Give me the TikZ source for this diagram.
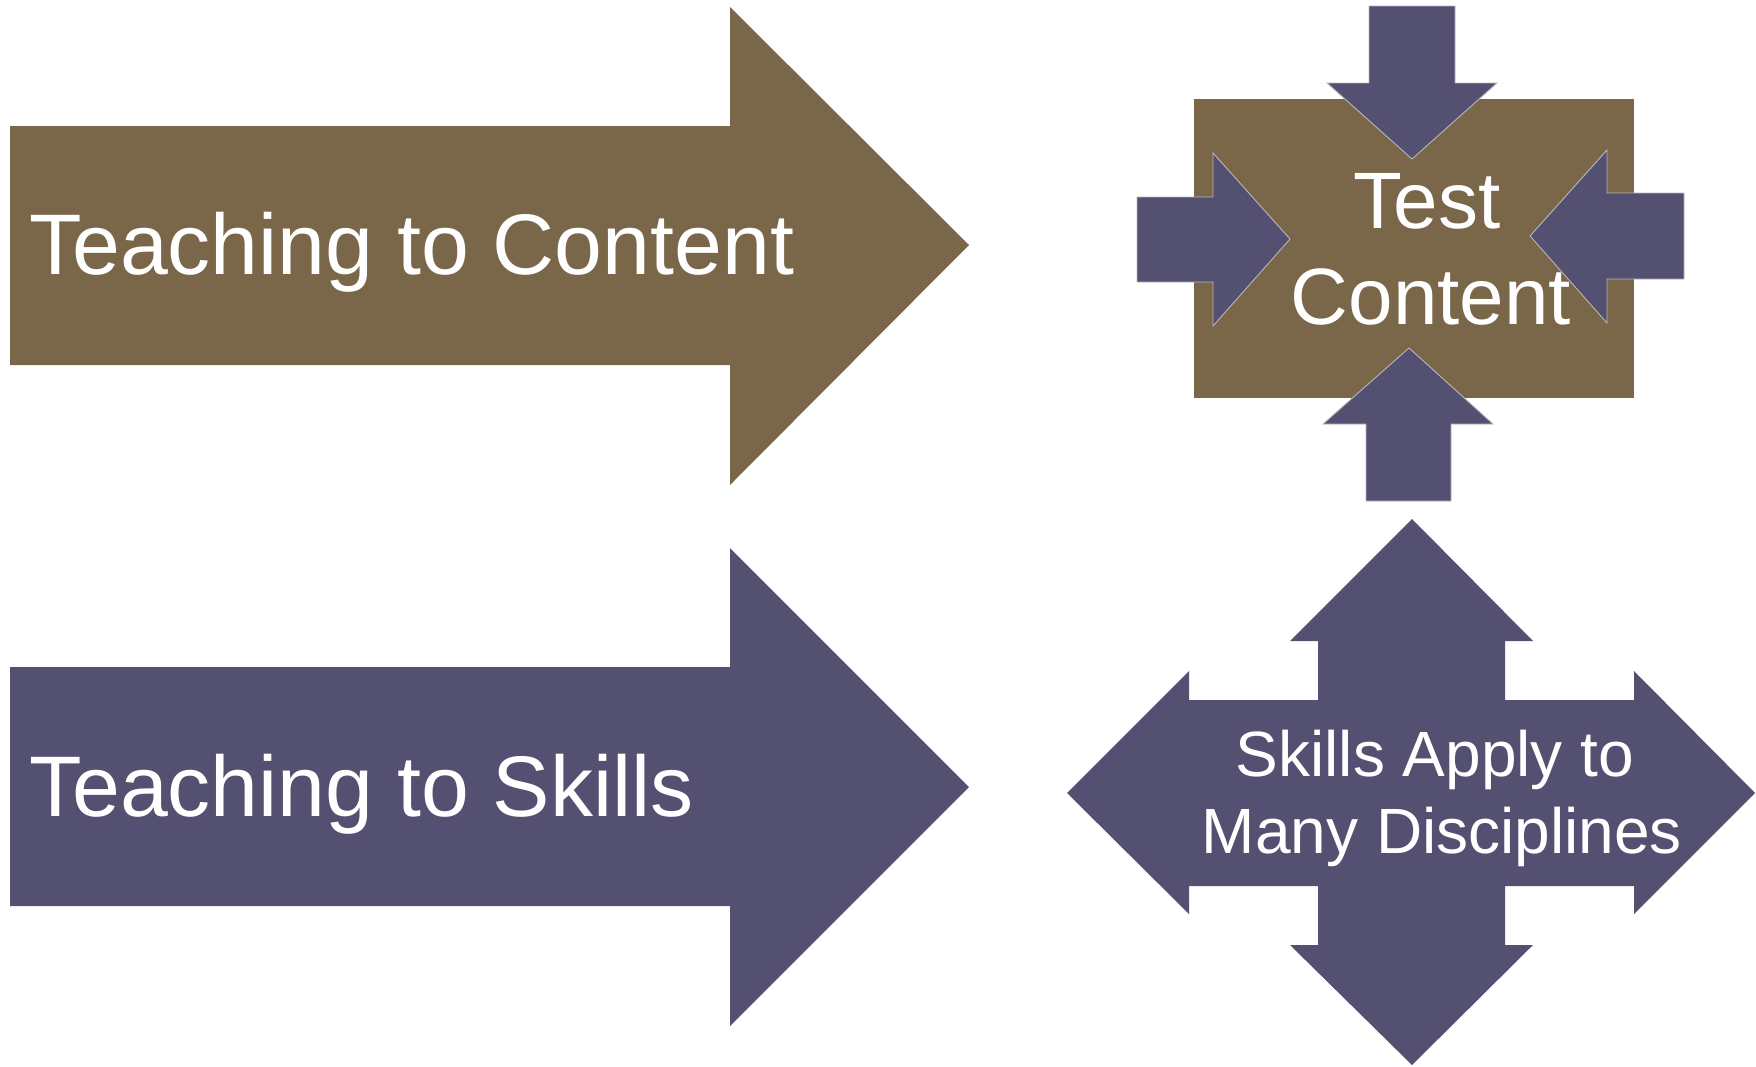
\documentclass[tikz,border=0pt]{standalone}
\usepackage{fontspec}
\setmainfont{Liberation Sans}
\definecolor{umber}{RGB}{122,103,73}
\definecolor{slate}{RGB}{84,80,113}
\tikzset{
  brownshape/.style={fill=umber},
  purpleshape/.style={fill=slate},
  edged/.style={purpleshape, draw=white!72!black, line width=0.9pt, line join=miter},
  whitetext/.style={text=white, inner sep=0pt},
  bigtext/.style={whitetext, font=\fontsize{86}{90}\selectfont},
  boxtext/.style={whitetext, font=\fontsize{80}{84}\selectfont},
  quadtext/.style={whitetext, font=\fontsize{64}{70}\selectfont},
}
\begin{document}
\begin{tikzpicture}[x=1pt,y=-1pt]
  \useasboundingbox (0,0) rectangle (1756,1066);

  % the two big arrows on the left
  \path[brownshape] (10,126) -- (730,126) -- (730,7) -- (969,245) -- (730,485)
    -- (730,365) -- (10,365) -- cycle;
  \path[purpleshape] (10,667) -- (730,667) -- (730,548) -- (969,787) -- (730,1026)
    -- (730,906) -- (10,906) -- cycle;

  \node[bigtext, anchor=base west] (content) at (29,274) {Teaching to Content};
  \node[bigtext, anchor=base west] (skills) at (29,816) {Teaching to Skills};

  % box squeezed from four sides
  \path[brownshape] (1194,99) rectangle (1634,398);
  \path[edged] (1369,6) -- (1455,6) -- (1455,83) -- (1497,83) -- (1412,159)
    -- (1327,83) -- (1369,83) -- cycle;
  \path[edged] (1366,501) -- (1451,501) -- (1451,424) -- (1493,424) -- (1409,348)
    -- (1323,424) -- (1366,424) -- cycle;
  \path[edged] (1137,197) -- (1213,197) -- (1213,153) -- (1290,239) -- (1213,326)
    -- (1213,282) -- (1137,282) -- cycle;
  \path[edged] (1684,193) -- (1607,193) -- (1607,150) -- (1530,236) -- (1607,323)
    -- (1607,279) -- (1684,279) -- cycle;

  \node[boxtext, anchor=base] (test) at (1427,228) {Test};
  \node[boxtext, anchor=base] (testcontent) at (1431,324) {Content};

  % four-way arrow
  \path[purpleshape] (1412,519) -- (1533,641) -- (1505,641) -- (1505,700)
    -- (1634,700) -- (1634,671) -- (1755,793) -- (1634,914) -- (1634,886)
    -- (1505,886) -- (1505,945) -- (1533,945) -- (1412,1065) -- (1290,945)
    -- (1318,945) -- (1318,886) -- (1189,886) -- (1189,914) -- (1067,793)
    -- (1189,671) -- (1189,700) -- (1318,700) -- (1318,641) -- (1290,641) -- cycle;

  \node[quadtext, anchor=base] (apply) at (1435,776) {Skills Apply to};
  \node[quadtext, anchor=base] (disciplines) at (1442,853) {Many Disciplines};
\end{tikzpicture}
\end{document}
